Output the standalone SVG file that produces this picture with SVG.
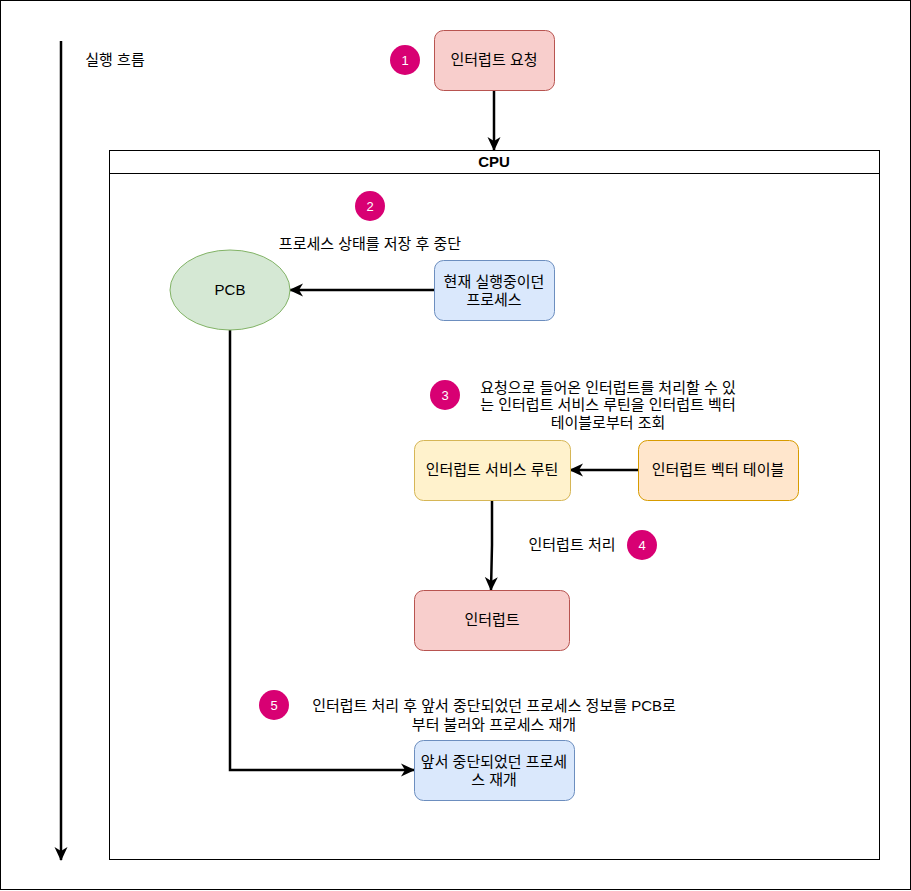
<svg xmlns="http://www.w3.org/2000/svg" width="911" height="891" viewBox="0 0 911 891">
<style>
text{font-family:"Liberation Sans","Noto Sans CJK KR",sans-serif;font-size:15px;fill:#000;text-anchor:middle}
.num{fill:#fff;font-size:13px}
.badge{fill:#d80073;stroke:none}
.conn{fill:none;stroke:#000;stroke-width:2.5}
</style>
<defs>
<marker id="ah" viewBox="0 0 14 14" refX="13" refY="7" markerWidth="14" markerHeight="14" orient="auto" markerUnits="userSpaceOnUse">
<path d="M0,0.5 L14,7 L0,13.5 L4,7 Z" fill="#000"/>
</marker>
</defs>
<rect x="0.5" y="0.5" width="910" height="889" fill="#fff" stroke="#000"/>
<g id="cpu">
<rect x="109.5" y="150.5" width="770" height="709" fill="#fff" stroke="#000"/>
<line x1="109.5" y1="173.5" x2="879.5" y2="173.5" stroke="#000"/>
<text x="494" y="167" font-weight="bold" font-size="14">CPU</text>
</g>
<g id="connectors">
<line x1="61" y1="41" x2="61" y2="860" class="conn" stroke-width="3" marker-end="url(#ah)"/>
<line x1="494" y1="90" x2="494" y2="150" class="conn" marker-end="url(#ah)"/>
<line x1="434" y1="290" x2="290" y2="290" class="conn" marker-end="url(#ah)"/>
<line x1="638" y1="470" x2="570" y2="470" class="conn" marker-end="url(#ah)"/>
<path d="M492,500 L492,545 L491,590" class="conn" marker-end="url(#ah)"/>
<path d="M230,330 L230,770 L414,770" class="conn" marker-end="url(#ah)"/>
</g>
<g id="flow-label"><text x="115" y="65" font-size="11.2">실행 흐름</text></g>
<g id="badge1"><circle cx="405" cy="60" r="15" class="badge"/><text x="405" y="65" class="num">1</text></g>
<g id="req"><rect x="434.5" y="30.5" width="120" height="60" rx="9" fill="#f8cecc" stroke="#b85450"/><text x="494" y="65">인터럽트 요청</text></g>
<g id="badge2"><circle cx="370" cy="206" r="15" class="badge"/><text x="370" y="211" class="num">2</text></g>
<g id="label2"><text x="370" y="249">프로세스 상태를 저장 후 중단</text></g>
<g id="pcb"><ellipse cx="230" cy="290" rx="60" ry="40" fill="#d5e8d4" stroke="#82b366"/><text x="230" y="295">PCB</text></g>
<g id="current"><rect x="434.5" y="260.5" width="120" height="60" rx="9" fill="#dae8fc" stroke="#6c8ebf"/><text x="494" y="287">현재 실행중이던</text><text x="494" y="305">프로세스</text></g>
<g id="badge3"><circle cx="445" cy="395" r="15" class="badge"/><text x="445" y="400" class="num">3</text></g>
<g id="label3"><text x="608" y="393">요청으로 들어온 인터럽트를 처리할 수 있</text><text x="608" y="410">는 인터럽트 서비스 루틴을 인터럽트 벡터</text><text x="608" y="428">테이블로부터 조회</text></g>
<g id="isr"><rect x="414.5" y="440.5" width="156" height="60" rx="9" fill="#fff2cc" stroke="#d6b656"/><text x="492" y="475">인터럽트 서비스 루틴</text></g>
<g id="ivt"><rect x="638.5" y="440.5" width="160" height="60" rx="9" fill="#ffe6cc" stroke="#d79b00"/><text x="718" y="475">인터럽트 벡터 테이블</text></g>
<g id="label4"><text x="572" y="550">인터럽트 처리</text></g>
<g id="badge4"><circle cx="642" cy="545" r="15" class="badge"/><text x="642" y="550" class="num">4</text></g>
<g id="interrupt"><rect x="414.5" y="590.5" width="155" height="60" rx="9" fill="#f8cecc" stroke="#b85450"/><text x="492" y="625">인터럽트</text></g>
<g id="badge5"><circle cx="274" cy="705" r="15" class="badge"/><text x="274" y="710" class="num">5</text></g>
<g id="label5"><text x="494" y="711">인터럽트 처리 후 앞서 중단되었던 프로세스 정보를 PCB로</text><text x="494" y="730">부터 불러와 프로세스 재개</text></g>
<g id="resume"><rect x="414.5" y="740.5" width="160" height="60" rx="9" fill="#dae8fc" stroke="#6c8ebf"/><text x="494" y="767">앞서 중단되었던 프로세</text><text x="494" y="785">스 재개</text></g>
</svg>
